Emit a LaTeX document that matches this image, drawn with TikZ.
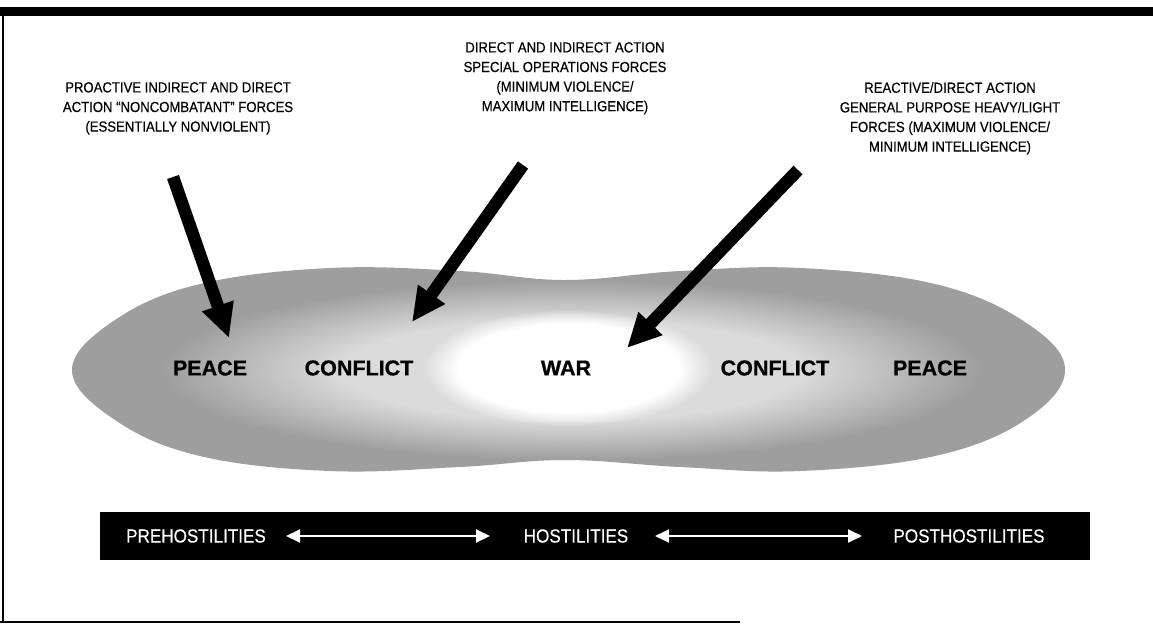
\documentclass[tikz,border=0pt]{standalone}
\usepackage{fontspec}
\setmainfont{Liberation Sans}
\newfontfamily\labfont{Liberation Sans}[FakeStretch=0.9, FakeBold=0.35]
\newfontfamily\zonefont{Liberation Sans Bold}[FakeBold=0.8]
\usetikzlibrary{arrows.meta,fadings}
\colorlet{pgftransparent}{black}
\pgfdeclareradialshading{warshade}{\pgfpointorigin}{color(0bp)=(pgftransparent!0); color(19bp)=(pgftransparent!0); color(25bp)=(pgftransparent!100); color(50bp)=(pgftransparent!100)}
\pgfdeclarefading{warfading}{\pgfuseshading{warshade}}
\pgfdeclareradialshading{conflictshade}{\pgfpointorigin}{color(0bp)=(pgftransparent!0); color(14bp)=(pgftransparent!0); color(25bp)=(pgftransparent!100); color(50bp)=(pgftransparent!100)}
\pgfdeclarefading{conflictfading}{\pgfuseshading{conflictshade}}
\begin{document}
\begin{tikzpicture}[x=1pt,y=-1pt,
  toplabel/.style={font=\labfont\fontsize{14.6}{19.6}\selectfont, align=center, inner sep=0pt},
  zonelabel/.style={font=\zonefont\fontsize{21.5}{24}\selectfont, inner sep=0pt},
  phaselabel/.style={font=\labfont\fontsize{19}{20}\selectfont, text=white, inner sep=0pt},
  bigarrow/.style={line width=12.5pt, -{Triangle[length=34pt,width=31pt]}},
  phasearrow/.style={white, line width=2pt, {Triangle[length=14pt,width=13pt]}-{Triangle[length=14pt,width=13pt]}},
  barbox/.style={fill=black, draw=none, inner sep=0pt}
]
\useasboundingbox (0,0) rectangle (1153,625);
\fill[white] (0,0) rectangle (1153,625);
% frame
\fill[black] (0,7) rectangle (1153,16);
\draw[line width=1.5pt] (3,12) -- (3,622);
\draw[line width=2pt] (0,622) -- (740,622);

% regions
\fill[black!38] plot[smooth cycle, tension=0.65] coordinates {
 (72,370) (115,320) (200,284) (330,268) (460,271) (565,280) (680,271) (800,268)
 (935,284) (1025,322) (1065,370) (1025,420) (935,456) (800,471) (680,467) (565,460)
 (460,467) (330,471) (200,456) (115,420)};
\fill[black!14, path fading=conflictfading, fit fading=true] (572,370) ellipse [x radius=410, y radius=90];
\fill[white, path fading=warfading, fit fading=true] (568,368) ellipse [x radius=145, y radius=58];

% zone labels
\node[zonelabel] (peaceL) at (210,368) {PEACE};
\node[zonelabel] (conflictL) at (359,368) {CONFLICT};
\node[zonelabel] (war) at (566,368) {WAR};
\node[zonelabel] (conflictR) at (775,368) {CONFLICT};
\node[zonelabel] (peaceR) at (930,368) {PEACE};

% top labels
\node[toplabel, anchor=north] (lab1) at (178,82) {PROACTIVE INDIRECT AND DIRECT\\ACTION “NONCOMBATANT” FORCES\\(ESSENTIALLY NONVIOLENT)};
\node[toplabel, anchor=north] (lab2) at (565,42) {DIRECT AND INDIRECT ACTION\\SPECIAL OPERATIONS FORCES\\(MINIMUM VIOLENCE/\\MAXIMUM INTELLIGENCE)};
\node[toplabel, anchor=north] (lab3) at (950,82) {REACTIVE/DIRECT ACTION\\GENERAL PURPOSE HEAVY/LIGHT\\FORCES (MAXIMUM VIOLENCE/\\MINIMUM INTELLIGENCE)};

% big arrows
\coordinate (t1) at (173,177); \coordinate (h1) at (229,338);
\coordinate (t2) at (523,165); \coordinate (h2) at (412,322);
\coordinate (t3) at (798,170); \coordinate (h3) at (627,348);
\draw[bigarrow] (t1) -- (h1);
\draw[bigarrow] (t2) -- (h2);
\draw[bigarrow] (t3) -- (h3);

% phase bar
\node[barbox, minimum width=990pt, minimum height=48pt] (bar) at (595,536) {};
\node[phaselabel] (pre) at (196,536) {PREHOSTILITIES};
\node[phaselabel] (host) at (576,536) {HOSTILITIES};
\node[phaselabel] (post) at (969,536) {POSTHOSTILITIES};
\coordinate (p1a) at (286,536); \coordinate (p1b) at (490,536);
\coordinate (p2a) at (655,536); \coordinate (p2b) at (862,536);
\draw[phasearrow] (p1a) -- (p1b);
\draw[phasearrow] (p2a) -- (p2b);
\end{tikzpicture}
\end{document}
